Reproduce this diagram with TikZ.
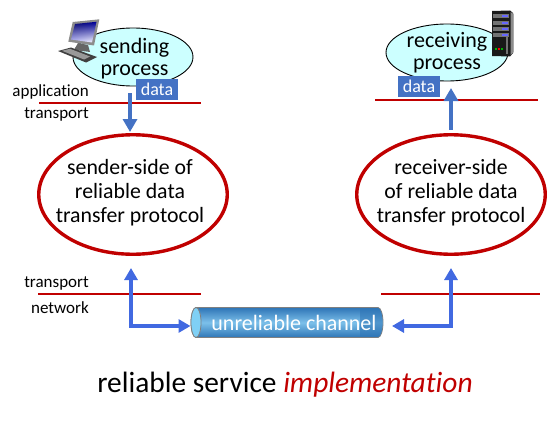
\documentclass[tikz,border=0pt]{standalone}
\usepackage{fontspec}
\setmainfont{Carlito}[Ligatures=NoCommon]
\usetikzlibrary{arrows.meta,calc,shapes.geometric,shadings}
\definecolor{dkred}{HTML}{C00000}
\definecolor{lineblue}{HTML}{4169E1}
\definecolor{boxblue}{HTML}{4472C4}
\definecolor{bubble}{HTML}{CCFFFF}
\definecolor{pipedark}{HTML}{2E75B6}
\definecolor{pipelight}{HTML}{7CC0EA}
\definecolor{capblue}{HTML}{7FD0F5}
\tikzset{
  bigoval/.style={ellipse,draw=dkred,line width=3.4pt,fill=white,minimum width=188.5pt,minimum height=119.5pt,inner sep=0pt},
  datatag/.style={fill=boxblue,text=white,font=\fontsize{18}{20}\selectfont,minimum width=42pt,minimum height=21pt,inner sep=0pt},
  layerlab/.style={anchor=east,font=\fontsize{17}{20}\selectfont,inner sep=0pt},
  redline/.style={draw=dkred,line width=2pt},
  thickarrow/.style={draw=boxblue,line width=4.5pt,-{Triangle[width=14pt,length=13pt]}},
  pipearrow/.style={draw=lineblue,line width=3.8pt,{Triangle[width=13pt,length=12pt]}-{Triangle[width=13pt,length=12pt]}},
  bubbletext/.style={align=center,font=\fontsize{22}{22}\selectfont,inner sep=0pt},
  ovaltext/.style={align=center,font=\fontsize{21.8}{24}\selectfont,inner sep=0pt},
}
\begin{document}
\begin{tikzpicture}[x=1pt,y=-1pt]
\useasboundingbox (0,0) rectangle (556,436);
% bubbles
\node[ellipse,draw=black,line width=0.9pt,fill=bubble,minimum width=120pt,minimum height=58pt,inner sep=0pt] (sendb) at (133,57) {};
\node[ellipse,draw=black,line width=0.9pt,fill=bubble,minimum width=122pt,minimum height=57pt,inner sep=0pt] (recvb) at (447,52.5) {};
% computer icon
\fill[black!60] (78,43) -- (88,45) -- (90,52) -- (74,50) -- cycle;
\fill[black!45] (72.7,22) -- (99.3,19.3) -- (94,45.5) -- (68.3,41.7) -- cycle;
\shade[upper left=blue!40!black,upper right=blue!60!black,lower left=blue!25!white,lower right=white] (75,24) -- (96.5,21.8) -- (92,42.5) -- (71,39.5) -- cycle;
\fill[black!75] (58,51) -- (71,47.5) -- (97,57) -- (86,62.5) -- cycle;
\fill[black!40] (62,50.8) -- (70,48.8) -- (90,56.5) -- (84,59.5) -- cycle;
% server icon
\fill[black!90] (492,11) -- (510,10.5) -- (513,13) -- (513,53) -- (510,56.5) -- (492,56) -- cycle;
\fill[black!45] (510.5,12) -- (513.5,14) -- (513.5,52) -- (510.5,55) -- cycle;
\foreach \yy in {16.5,23,29.5,35.5}{
  \fill[black!55] (493,\yy-2) rectangle (509,\yy+1.6);
  \fill[blue!60!white] (502,\yy-1) rectangle (508,\yy+1);
}
\fill[black!55] (505.5,37.5) rectangle (507.5,54);
\fill[green!70!black] (494.5,48) rectangle (496.5,50.5);
\fill[red] (497.5,48) rectangle (499.5,50.5);
\fill[green!70!black] (500.5,48) rectangle (502.5,50.5);
% bubble texts
\node[bubbletext] (sendt) at (134.5,58.5) {sending\\process};
\node[bubbletext] (recvt) at (447,52.5) {receiving\\process};
% red lines
\coordinate (a1) at (39,103); \coordinate (a2) at (201,103);
\coordinate (b1) at (375,100); \coordinate (b2) at (538,100);
\coordinate (c1) at (38,294); \coordinate (c2) at (201,294);
\coordinate (d1) at (381,294); \coordinate (d2) at (540,294);
\draw[redline] (a1) -- (a2);
\draw[redline] (b1) -- (b2);
\draw[redline] (c1) -- (c2);
\draw[redline] (d1) -- (d2);
% data tags
\node[datatag] (dataS) at (157,89.5) {data};
\node[datatag] (dataR) at (419,86.5) {data};
% layer labels
\node[layerlab] (la) at (89,92) {application};
\node[layerlab] (lb) at (89,114) {transport};
\node[layerlab] (lc) at (89,283) {transport};
\node[layerlab] (ld) at (89,307.5) {network};
% big ovals
\node[bigoval] (sender) at (133,194.5) {};
\node[bigoval] (receiver) at (451,194.5) {};
\node[ovaltext] (sendert) at (130,192.5) {sender-side of\\reliable data\\transfer protocol};
\node[ovaltext] (receivert) at (451,192.5) {receiver-side\\of reliable data\\transfer protocol};
% vertical arrows
\coordinate (s0) at (130,93);
\coordinate (sEnd) at (130,132);
\coordinate (r0) at (451,129.5);
\coordinate (rEnd) at (451,88);
\draw[thickarrow] (s0) -- (sEnd);
\draw[thickarrow] (r0) -- (rEnd);
% channel
\shade[top color=pipedark,bottom color=pipedark,middle color=pipelight,draw=gray,line width=0.8pt]
  (196,307.5) -- (378,307.5) arc[start angle=90,end angle=-90,x radius=5pt,y radius=15pt] -- (196,337.5) arc[start angle=270,end angle=90,x radius=5pt,y radius=15pt] -- cycle;
\fill[pipedark,opacity=0.55] (360,308) -- (378,308) arc[start angle=90,end angle=-90,x radius=4.6pt,y radius=14.6pt] -- (360,337) -- cycle;
\node[ellipse,draw=gray,line width=0.8pt,fill=capblue,minimum width=10pt,minimum height=30pt,inner sep=0pt] (cap) at (196,322.5) {};
\node[text=white,font=\fontsize{22}{22}\selectfont,inner sep=0pt] (chan) at (294,323) {unreliable channel};
% pipe arrows
\coordinate (lcorner) at (131,326);
\coordinate (rcorner) at (451,326);
\coordinate (ltop) at (131,268);
\coordinate (rtop) at (451,268);
\coordinate (rleft) at (392,326);
\coordinate (lright) at (190.5,326);
\draw[pipearrow] (ltop) -- (lcorner) -- (lright);
\draw[pipearrow] (rtop) -- (rcorner) -- (rleft);
% caption
\node[font=\fontsize{29.4}{32}\selectfont,inner sep=0pt] (cap2) at (285,385) {reliable service \textcolor{dkred}{\itshape implementation}};
\end{tikzpicture}
\end{document}
